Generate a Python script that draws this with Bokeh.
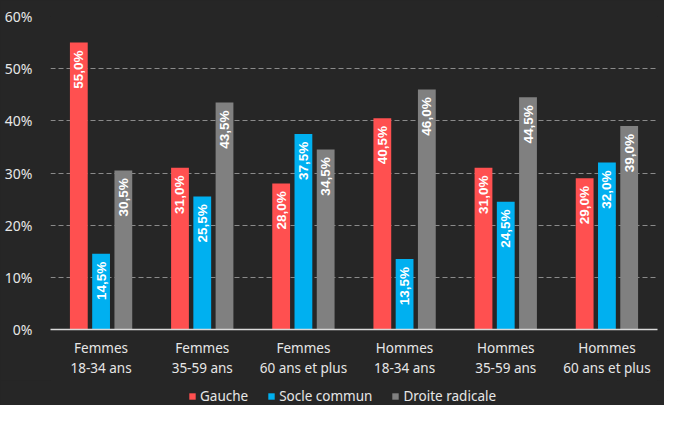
from bokeh.plotting import figure
from bokeh.layouts import column
from bokeh.models import ColumnDataSource, FactorRange, Range1d, Legend, LegendItem, FixedTicker, CustomJSTickFormatter
from bokeh.transform import dodge
from bokeh.core.properties import value
from bokeh.embed import file_html
from bokeh.resources import INLINE
import math

categories = ["Femmes\n18-34 ans", "Femmes\n35-59 ans", "Femmes\n60 ans et plus",
              "Hommes\n18-34 ans", "Hommes\n35-59 ans", "Hommes\n60 ans et plus"]
gauche = [55.0, 31.0, 28.0, 40.5, 31.0, 29.0]
socle = [14.5, 25.5, 37.5, 13.5, 24.5, 32.0]
droite = [30.5, 43.5, 34.5, 46.0, 44.5, 39.0]
series_names = ["Gauche", "Socle commun", "Droite radicale"]
y_ticks = [0, 10, 20, 30, 40, 50, 60]

BG = "#262626"
colors = ["#FF5050", "#00B0F0", "#808080"]

def fmt(v):
    return ("%.1f" % v).replace(".", ",") + "%"

src = ColumnDataSource(dict(
    cat=categories,
    g=gauche, s=socle, d=droite,
    g_lab=[fmt(v) for v in gauche],
    s_lab=[fmt(v) for v in socle],
    d_lab=[fmt(v) for v in droite],
    g_y=[v - 1.5 for v in gauche],
    s_y=[v - 1.5 for v in socle],
    d_y=[v - 1.5 for v in droite],
))

p = figure(width=664, height=380, x_range=FactorRange(*categories, range_padding=0),
           y_range=Range1d(0, 60), output_backend="svg", toolbar_location=None,
           background_fill_color=BG, border_fill_color=BG,
           min_border_left=50, min_border_right=7, min_border_top=16, min_border_bottom=50)
p.outline_line_color = None
p.x_range.factor_padding = 0

offsets = [-0.22, 0.0, 0.22]
keys = ["g", "s", "d"]
for k, off, c in zip(keys, offsets, colors):
    p.vbar(x=dodge("cat", off, range=p.x_range), top=k, width=0.176, source=src,
           fill_color=c, line_color=None)
    p.text(x=dodge("cat", off, range=p.x_range), y=k + "_y", text=k + "_lab", source=src,
           angle=math.pi / 2, text_align="right", text_baseline="middle",
           text_color="white", text_font_size="13.5px", text_font_style="bold",
           text_font=value("Liberation Sans"))

# grid
p.xgrid.grid_line_color = None
p.ygrid.grid_line_color = "#8a8a8a"
p.ygrid.grid_line_dash = "5 3"
p.ygrid.grid_line_width = 1
p.ygrid.ticker = FixedTicker(ticks=y_ticks[1:])

# y axis
p.yaxis.ticker = FixedTicker(ticks=y_ticks)
p.yaxis.formatter = CustomJSTickFormatter(code="return tick.toFixed(0) + '%';")
p.yaxis.axis_line_color = None
p.yaxis.major_tick_line_color = None
p.yaxis.minor_tick_line_color = None
p.yaxis.major_label_standoff = 12
p.yaxis.major_label_text_color = "#e6e6e6"
p.yaxis.major_label_text_font = "Noto Sans"
p.yaxis.major_label_text_font_size = "14px"

# x axis
p.xaxis.axis_line_color = "#d9d9d9"
p.xaxis.axis_line_width = 1.5
p.xaxis.major_tick_line_color = None
p.xaxis.minor_tick_line_color = None
p.xaxis.major_label_standoff = 3
p.xaxis.major_label_text_color = "#e6e6e6"
p.xaxis.major_label_text_font = "Noto Sans"
p.xaxis.major_label_text_font_size = "13.5px"
p.xaxis.major_label_text_line_height = 1.15

# legend strip (bars drawn from the same data, above the visible range)
pl = figure(width=664, height=25, x_range=FactorRange(*categories), y_range=Range1d(100, 101),
            output_backend="svg", toolbar_location=None, x_axis_type=None, y_axis_type=None,
            background_fill_color=BG, border_fill_color=BG, min_border=0)
pl.outline_line_color = None
pl.xgrid.grid_line_color = None
pl.ygrid.grid_line_color = None
leg_renderers = [pl.vbar(x="cat", top=k, width=0.1, source=src, fill_color=c, line_color=None)
                 for k, c in zip(keys, colors)]
legend = Legend(items=[LegendItem(label=n, renderers=[r]) for n, r in zip(series_names, leg_renderers)],
                orientation="horizontal", location=(138, 0),
                background_fill_color=BG, background_fill_alpha=1, border_line_color=None,
                label_text_color="#e6e6e6", label_text_font="Noto Sans", label_text_font_size="13.5px",
                glyph_width=8, glyph_height=8, label_standoff=4, spacing=19,
                margin=0, padding=2)
pl.add_layout(legend, "center")

layout = column(p, pl, spacing=0, styles={"background-color": BG})
open("out.html", "w").write(file_html(layout, INLINE))
